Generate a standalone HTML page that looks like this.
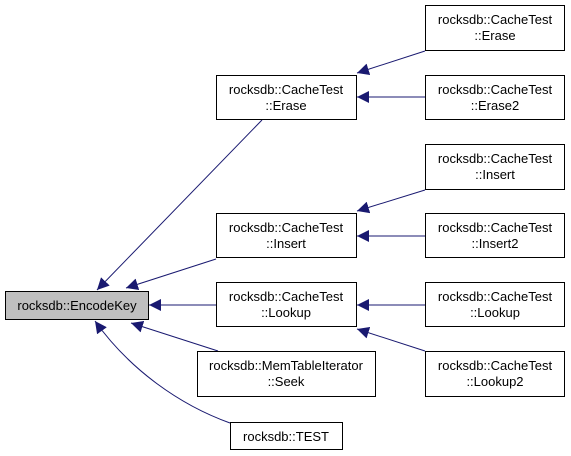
<!DOCTYPE html>
<html><head><style>
html,body{margin:0;padding:0;background:#fff;}
svg{display:block;}
text{font-family:"Liberation Sans",sans-serif;font-size:13px;fill:#000;}
</style></head><body>
<svg width="571" height="456" viewBox="0 0 571 456" xmlns="http://www.w3.org/2000/svg">
<defs>
<marker id="a" viewBox="0 0 10 10" refX="10" refY="5" markerWidth="12" markerHeight="12" markerUnits="userSpaceOnUse" orient="auto">
<path d="M0,0 L10,5 L0,10 z" fill="#191970"/>
</marker>
</defs>
<g stroke="#191970" stroke-width="1" fill="none" marker-end="url(#a)">
<line x1="425" y1="51" x2="357" y2="73"/>
<line x1="425" y1="97" x2="357" y2="97"/>
<line x1="425" y1="190" x2="357" y2="211"/>
<line x1="425" y1="236" x2="357" y2="236"/>
<line x1="425" y1="305" x2="357" y2="305"/>
<line x1="425" y1="351" x2="357" y2="329"/>
<line x1="262" y1="120" x2="97" y2="290"/>
<line x1="216" y1="259" x2="126" y2="288"/>
<line x1="216" y1="305" x2="149" y2="305"/>
<line x1="218" y1="351" x2="131" y2="323"/>
<path d="M230,423 C180,405 130,370 95,321"/>
</g>
<g stroke="#000" stroke-width="1">
<rect x="5.5" y="291.5" width="143" height="28" fill="#bfbfbf"/>
<rect x="216.5" y="75.5" width="140" height="44" fill="#fff"/>
<rect x="216.5" y="213.5" width="140" height="44" fill="#fff"/>
<rect x="216.5" y="282.5" width="140" height="44" fill="#fff"/>
<rect x="197.5" y="351.5" width="178" height="45" fill="#fff"/>
<rect x="230.5" y="422.5" width="112" height="27" fill="#fff"/>
<rect x="425.5" y="5.5" width="139" height="45" fill="#fff"/>
<rect x="425.5" y="75.5" width="139" height="44" fill="#fff"/>
<rect x="425.5" y="144.5" width="139" height="45" fill="#fff"/>
<rect x="425.5" y="213.5" width="139" height="44" fill="#fff"/>
<rect x="425.5" y="282.5" width="139" height="44" fill="#fff"/>
<rect x="425.5" y="351.5" width="139" height="45" fill="#fff"/>
</g>
<g text-anchor="middle">
<text x="77" y="310">rocksdb::EncodeKey</text>
<text x="286" y="94">rocksdb::CacheTest</text><text x="286" y="110">::Erase</text>
<text x="286" y="232">rocksdb::CacheTest</text><text x="286" y="248">::Insert</text>
<text x="286" y="301">rocksdb::CacheTest</text><text x="286" y="317">::Lookup</text>
<text x="286" y="370">rocksdb::MemTableIterator</text><text x="286" y="386">::Seek</text>
<text x="286" y="441">rocksdb::TEST</text>
<text x="495" y="24">rocksdb::CacheTest</text><text x="495" y="40">::Erase</text>
<text x="495" y="94">rocksdb::CacheTest</text><text x="495" y="110">::Erase2</text>
<text x="495" y="163">rocksdb::CacheTest</text><text x="495" y="179">::Insert</text>
<text x="495" y="232">rocksdb::CacheTest</text><text x="495" y="248">::Insert2</text>
<text x="495" y="301">rocksdb::CacheTest</text><text x="495" y="317">::Lookup</text>
<text x="495" y="370">rocksdb::CacheTest</text><text x="495" y="386">::Lookup2</text>
</g>
</svg>
</body></html>
